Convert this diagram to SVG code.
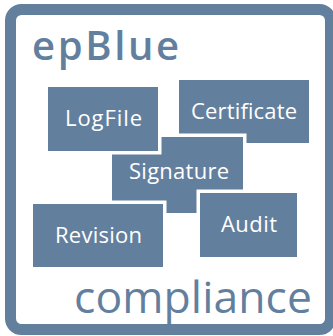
<svg xmlns="http://www.w3.org/2000/svg" width="333" height="336" viewBox="0 0 333 336">
<style>
.box{fill:#637f9e;stroke:#ffffff;stroke-width:7;paint-order:stroke}
.lbl{fill:#ffffff;font-family:"Open Sans","Noto Sans",sans-serif;font-size:22px;text-anchor:middle}
.title{fill:#637f9e;font-family:"Open Sans","Noto Sans",sans-serif}
</style>
<rect width="333" height="336" fill="#ffffff"/>
<rect id="frame" x="10.5" y="9.5" width="320" height="320" rx="11" ry="11" fill="none" stroke="#637f9e" stroke-width="11"/>
<text class="title" x="32" y="60" font-size="40" font-weight="600" textLength="147" lengthAdjust="spacing">epBlue</text>
<text class="title" x="74" y="313" font-size="44.5" textLength="238" lengthAdjust="spacing">compliance</text>
<g id="connectors"></g>
<g id="certificate"><rect class="box" x="179" y="80" width="130" height="63"/><text class="lbl" x="244" y="119" textLength="106" lengthAdjust="spacing">Certificate</text></g>
<g id="signature"><rect class="box" x="112" y="137" width="131" height="76"/><text class="lbl" x="179" y="179" textLength="100" lengthAdjust="spacing">Signature</text></g>
<g id="logfile"><rect class="box" x="48" y="87" width="110" height="64"/><text class="lbl" x="103.5" y="126" textLength="77" lengthAdjust="spacing">LogFile</text></g>
<g id="revision"><rect class="box" x="33" y="204" width="130" height="63"/><text class="lbl" x="98.5" y="243" textLength="87" lengthAdjust="spacing">Revision</text></g>
<g id="audit"><rect class="box" x="200" y="193" width="97" height="64"/><text class="lbl" x="249" y="232" textLength="56" lengthAdjust="spacing">Audit</text></g>
</svg>
